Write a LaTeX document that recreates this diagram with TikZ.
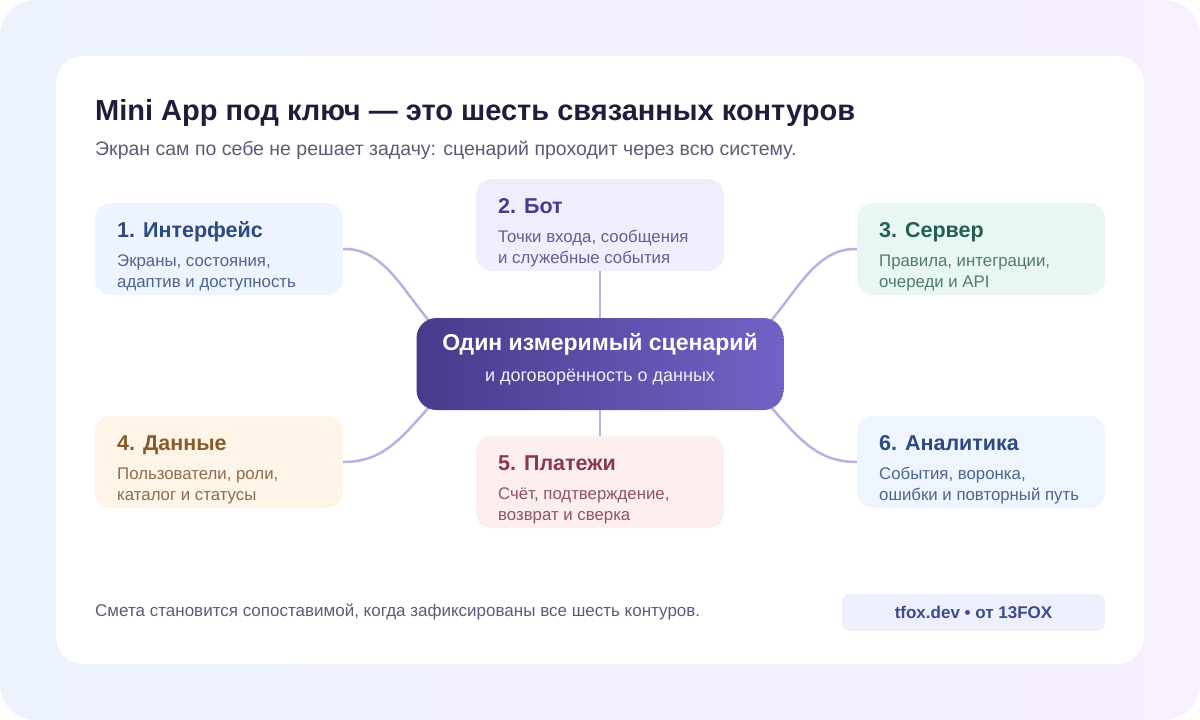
\documentclass[tikz,border=0pt]{standalone}
\usepackage{fontspec}
\setmainfont{Liberation Sans}
\definecolor{bgA}{HTML}{EDF2FF}
\definecolor{bgB}{HTML}{F7F0FE}
\definecolor{titleC}{HTML}{1E1E3C}
\definecolor{subC}{HTML}{5D5A78}
\definecolor{linkC}{HTML}{B9B1DE}
\definecolor{midA}{HTML}{483B8C}
\definecolor{midB}{HTML}{7262C6}
\definecolor{ifaceBg}{HTML}{EDF3FF}
\definecolor{ifaceFg}{HTML}{2D4A80}
\definecolor{ifaceTx}{HTML}{506489}
\definecolor{botBg}{HTML}{F1EDFD}
\definecolor{botFg}{HTML}{493A8C}
\definecolor{botTx}{HTML}{675D8E}
\definecolor{srvBg}{HTML}{E8F7F3}
\definecolor{srvFg}{HTML}{22614F}
\definecolor{srvTx}{HTML}{4F7B6F}
\definecolor{dataBg}{HTML}{FFF4E8}
\definecolor{dataFg}{HTML}{8A5A2A}
\definecolor{dataTx}{HTML}{8C6C4E}
\definecolor{payBg}{HTML}{FDEEEE}
\definecolor{payFg}{HTML}{883A4A}
\definecolor{payTx}{HTML}{8E5462}
\definecolor{anBg}{HTML}{EEF5FF}
\definecolor{anFg}{HTML}{2D4A80}
\definecolor{anTx}{HTML}{506489}
\definecolor{badgeBg}{HTML}{EDF0FC}
\definecolor{badgeFg}{HTML}{3D4B8E}

\begin{document}
\begin{tikzpicture}[x=1pt,y=-1pt,
	card/.style={rounded corners=16pt, minimum width=248pt, minimum height=92pt, inner sep=0pt},
	head/.style={anchor=base west, inner sep=0pt, font=\fontsize{21.5}{25}\selectfont\bfseries},
	note/.style={anchor=base west, inner sep=0pt, align=left, font=\fontsize{16.8}{21}\selectfont},
	link/.style={draw=linkC, line width=2.5pt}]
	\useasboundingbox (0,0) rectangle (1200,720);
	\fill[white] (0,0) rectangle (1200,720);
	\shade[rounded corners=36pt, left color=bgA, right color=bgB] (0,0) rectangle (1200,720);
	\fill[white, rounded corners=28pt] (56,56) rectangle (1144,664);

	\node[anchor=base west, inner sep=0pt, text=titleC, font=\fontsize{29}{33}\selectfont\bfseries] (title) at (95,120) {Mini App под ключ — это шесть связанных контуров};
	\node[anchor=base west, inner sep=0pt, text=subC, font=\fontsize{19.5}{23}\selectfont] (subtitle) at (95,155) {Экран сам по себе не решает задачу: сценарий проходит через всю систему.};

	\node[card, fill=ifaceBg] (iface) at (219,249) {};
	\node[card, fill=botBg] (bot) at (600,225) {};
	\node[card, fill=srvBg] (server) at (981,249) {};
	\node[card, fill=dataBg] (data) at (219,462) {};
	\node[card, fill=payBg] (pay) at (600,482) {};
	\node[card, fill=anBg] (stats) at (981,462) {};
	\coordinate (hub) at (600,364);

	\draw[link] (iface.east) .. controls (382,248) and (400,286) .. ([xshift=-170pt,yshift=42pt]hub);
	\draw[link] (server.west) .. controls (818,248) and (800,286) .. ([xshift=170pt,yshift=42pt]hub);
	\draw[link] (data.east) .. controls (382,462) and (400,440) .. ([xshift=-170pt,yshift=-42pt]hub);
	\draw[link] (stats.west) .. controls (818,462) and (800,440) .. ([xshift=170pt,yshift=-42pt]hub);
	\draw[link] (bot.south) -- (hub);
	\draw[link] (pay.north) -- (hub);

	\node[rounded corners=20pt, minimum width=367pt, minimum height=92pt, inner sep=0pt, left color=midA, right color=midB] (center) at (hub) {};
	\node[anchor=base, inner sep=0pt, text=white, font=\fontsize{23}{27}\selectfont\bfseries] (centerH) at (600,350) {Один измеримый сценарий};
	\node[anchor=base, inner sep=0pt, text=white!90!midB, font=\fontsize{18}{21}\selectfont] (centerT) at (600,381) {и договорённость о данных};

	% notes: base is the second line
	\node[head, text=ifaceFg] (ifaceH) at (117,237) {1. Интерфейс};
	\node[note, text=ifaceTx] (ifaceT) at (117,287) {Экраны, состояния,\\адаптив и доступность};
	\node[head, text=botFg] (botH) at (498,213) {2. Бот};
	\node[note, text=botTx] (botT) at (498,263) {Точки входа, сообщения\\и служебные события};
	\node[head, text=srvFg] (serverH) at (879,237) {3. Сервер};
	\node[note, text=srvTx] (serverT) at (879,287) {Правила, интеграции,\\очереди и API};
	\node[head, text=dataFg] (dataH) at (117,450) {4. Данные};
	\node[note, text=dataTx] (dataT) at (117,500) {Пользователи, роли,\\каталог и статусы};
	\node[head, text=payFg] (payH) at (498,470) {5. Платежи};
	\node[note, text=payTx] (payT) at (498,520) {Счёт, подтверждение,\\возврат и сверка};
	\node[head, text=anFg] (statsH) at (879,450) {6. Аналитика};
	\node[note, text=anTx] (statsT) at (879,500) {События, воронка,\\ошибки и повторный путь};

	\node[anchor=base west, inner sep=0pt, text=subC, font=\fontsize{17}{20}\selectfont] (footer) at (95,616) {Смета становится сопоставимой, когда зафиксированы все шесть контуров.};
	\node[rounded corners=8pt, fill=badgeBg, minimum width=263pt, minimum height=37pt, inner sep=0pt] (badge) at (973.5,612.5) {};
	\node[anchor=base, inner sep=0pt, text=badgeFg, font=\fontsize{17}{20}\selectfont\bfseries] (badgeT) at (973.5,618.5) {tfox.dev • от 13FOX};
\end{tikzpicture}
\end{document}
